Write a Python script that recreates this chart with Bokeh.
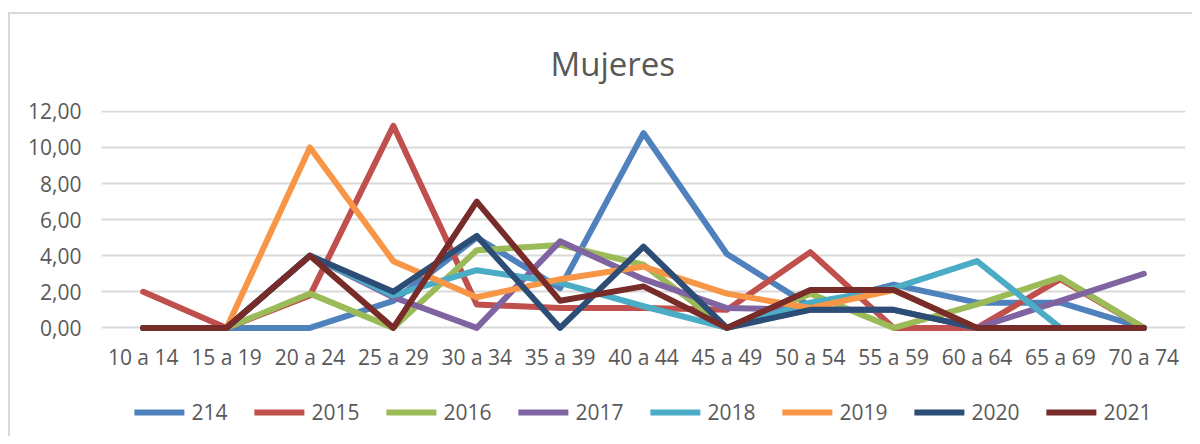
from bokeh.plotting import figure
from bokeh.layouts import column
from bokeh.models import Range1d, FactorRange, Legend, LegendItem, SingleIntervalTicker, CustomJSTickFormatter
from bokeh.embed import file_html
from bokeh.resources import INLINE

categories = ["10 a 14", "15 a 19", "20 a 24", "25 a 29", "30 a 34", "35 a 39", "40 a 44",
              "45 a 49", "50 a 54", "55 a 59", "60 a 64", "65 a 69", "70 a 74"]

series_names = ["214", "2015", "2016", "2017", "2018", "2019", "2020", "2021"]

s214 = [0, 0, 0, 1.5, 5.0, 2.2, 10.8, 4.1, 1.2, 2.4, 1.4, 1.4, 0]
s2015 = [2.0, 0, 1.8, 11.2, 1.3, 1.1, 1.1, 1.0, 4.2, 0, 0, 2.7, 0]
s2016 = [0, 0, 1.9, 0, 4.3, 4.6, 3.5, 0, 1.9, 0, 1.3, 2.8, 0]
s2017 = [0, 0, 4.0, 1.7, 0, 4.8, 2.7, 1.1, 1.0, 1.0, 0, 1.5, 3.0]
s2018 = [0, 0, 4.0, 1.8, 3.2, 2.5, 1.2, 0, 1.4, 2.2, 3.7, 0, 0]
s2019 = [0, 0, 10.0, 3.7, 1.7, 2.7, 3.4, 1.9, 1.1, 2.1, 0, 0, 0]
s2020 = [0, 0, 4.0, 2.0, 5.1, 0, 4.5, 0, 1.0, 1.0, 0, 0, 0]
s2021 = [0, 0, 4.0, 0, 7.0, 1.5, 2.3, 0, 2.1, 2.1, 0, 0, 0]

series_values = [s214, s2015, s2016, s2017, s2018, s2019, s2020, s2021]
colors = ["#4F81BD", "#C0504D", "#9BBB59", "#8064A2", "#4BACC6", "#F79646", "#2C4D75", "#772C2A"]

FONT = "Open Sans"
TXT = "#595959"

p = figure(
    x_range=FactorRange(*categories),
    y_range=Range1d(-0.2, 12.05),
    width=1182, height=362,
    min_border_left=91, min_border_right=7, min_border_top=96, min_border_bottom=45,
    output_backend="svg", toolbar_location=None,
    title="Mujeres",
)
p.outline_line_color = None

p.title.align = "left"
p.title.offset = 449
p.title.standoff = 49
p.title.text_font = FONT
p.title.text_font_size = "33px"
p.title.text_font_style = "normal"
p.title.text_color = TXT

# grid
p.xgrid.grid_line_color = None
p.ygrid.grid_line_color = "#d9d9d9"
p.ygrid.grid_line_width = 2

p.yaxis.ticker = SingleIntervalTicker(interval=2)
p.yaxis.formatter = CustomJSTickFormatter(code="return tick.toFixed(2).replace('.', ',');")
for ax in (p.xaxis, p.yaxis):
    ax.axis_line_color = None
    ax.major_tick_line_color = None
    ax.minor_tick_line_color = None
    ax.major_tick_out = 0
    ax.major_tick_in = 0
    ax.major_label_text_font = FONT
    ax.major_label_text_font_size = "21px"
    ax.major_label_text_color = TXT
p.yaxis.major_label_standoff = 16
p.xaxis.major_label_standoff = 11

for vals, col in zip(series_values, colors):
    p.line(categories, vals, line_color=col, line_width=6, line_join="round", line_cap="round")

# legend strip below the chart
p2 = figure(width=1182, height=60, x_range=Range1d(0, 1), y_range=Range1d(0, 1),
            x_axis_type=None, y_axis_type=None,
            min_border_left=26, min_border_right=0, min_border_top=12, min_border_bottom=0,
            output_backend="svg", toolbar_location=None)
p2.outline_line_color = None
p2.grid.visible = False

nan = float("nan")
items = []
for name, col in zip(series_names, colors):
    r = p2.line(x=[nan], y=[nan], line_color=col, line_width=6, line_cap="round")
    items.append(LegendItem(label=name, renderers=[r]))

legend = Legend(items=items, orientation="horizontal", location="center",
                glyph_width=50, glyph_height=20, label_standoff=7, spacing=27,
                padding=6, margin=0, border_line_color=None, background_fill_alpha=0,
                label_text_font=FONT, label_text_font_size="21px", label_text_color=TXT)
p2.add_layout(legend, "center")

lay = column(p, p2, spacing=0)
lay.styles = {"border-left": "2px solid #d9d9d9", "border-top": "2px solid #d9d9d9",
              "margin-top": "12px", "margin-left": "8px"}

open("out.html", "w").write(file_html(lay, INLINE))
